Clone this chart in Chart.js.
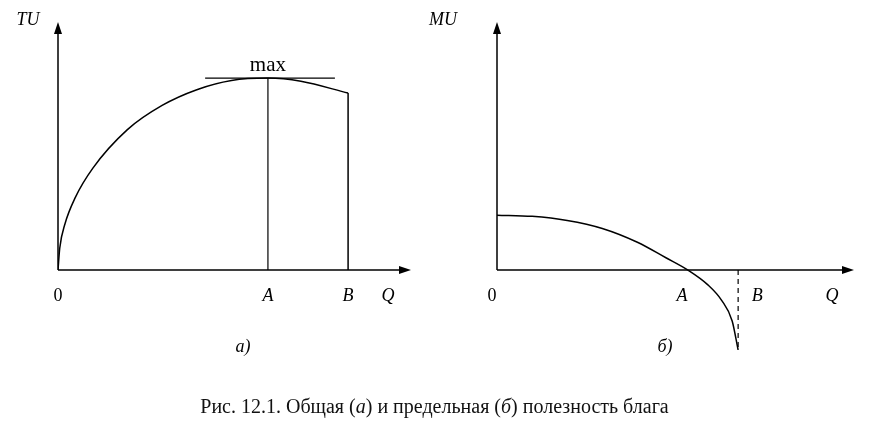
<!DOCTYPE html>
<html><head><meta charset="utf-8">
<script src="https://cdn.jsdelivr.net/npm/chart.js@4/dist/chart.umd.min.js"></script>
<style>
body{margin:0;background:#fff;width:869px;height:428px;overflow:hidden;position:relative;font-family:"Liberation Serif",serif}
canvas{position:absolute;left:0;top:0}
#cap{position:absolute;top:395px;left:0;width:869px;text-align:center;font-size:20px;color:#111}
</style></head><body>
<canvas id="left" width="869" height="428"></canvas>
<canvas id="right" width="869" height="428"></canvas>
<div id="cap">Рис. 12.1. Общая (<i>а</i>) и предельная (<i>б</i>) полезность блага</div>
<script>
// left panel: total utility
const tuQ = [0, 0.05, 0.2, 0.5, 1, 2, 3, 4, 5, 6.05, 7, 8.36];
const tuVal = [0, 0.9, 1.9, 3.0, 4.2, 5.8, 6.8, 7.45, 7.83, 7.93, 7.8, 7.31];
const leftA = 6.05, leftB = 8.36, tuMax = 7.93, maxLine = [4.24, 7.98];
// right panel: marginal utility
const muQ = [0, 1, 2, 3, 4, 4.8, 5.44, 6, 6.4, 6.7, 6.87];
const muVal = [2.27, 2.22, 2.05, 1.72, 1.15, 0.52, 0, -0.6, -1.25, -2.1, -3.3];
const rightA = 5.44, rightB = 6.87;

const pts = (xs, ys) => xs.map((x, i) => ({x: x, y: ys[i]}));

function axesPlugin(labels) {
    return {
        id: 'axes',
        afterDatasetsDraw(chart) {
            const c = chart.ctx, sx = chart.scales.x, sy = chart.scales.y;
            const x0 = sx.getPixelForValue(0), y0 = sy.getPixelForValue(0);
            const xEnd = sx.getPixelForValue(10), yTop = sy.getPixelForValue(10);
            c.save();
            c.strokeStyle = '#000'; c.fillStyle = '#000'; c.lineWidth = 1.5;
            c.beginPath(); c.moveTo(x0, y0); c.lineTo(x0, yTop + 4); c.moveTo(x0, y0); c.lineTo(xEnd - 4, y0); c.stroke();
            c.beginPath(); c.moveTo(x0, yTop - 6); c.lineTo(x0 - 4, yTop + 6); c.lineTo(x0 + 4, yTop + 6); c.fill();
            c.beginPath(); c.moveTo(xEnd + 6, y0); c.lineTo(xEnd - 6, y0 - 4); c.lineTo(xEnd - 6, y0 + 4); c.fill();
            c.textAlign = 'center'; c.textBaseline = 'middle';
            labels.forEach(l => {
                c.font = (l.italic ? 'italic ' : '') + (l.size || 18) + 'px "Liberation Serif"';
                const px = l.q !== undefined ? sx.getPixelForValue(l.q) + (l.dx || 0) : l.px;
                c.fillText(l.t, px, l.py);
            });
            c.restore();
        }
    };
}

const base = (padding, ymin) => ({
    responsive: false, animation: false,
    layout: {padding: padding},
    plugins: {legend: {display: false}, tooltip: {enabled: false}},
    elements: {point: {radius: 0}},
    scales: {
        x: {type: 'linear', min: 0, max: 10, display: false},
        y: {type: 'linear', min: ymin, max: 10, display: false}
    }
});

new Chart(document.getElementById('left'), {
    type: 'line',
    data: {datasets: [
        {data: pts(tuQ, tuVal), borderColor: '#000', borderWidth: 1.5, cubicInterpolationMode: 'monotone'},
        {data: [{x: leftA, y: 0}, {x: leftA, y: tuMax}], borderColor: '#000', borderWidth: 1.2},
        {data: [{x: leftB, y: 0}, {x: leftB, y: tuVal[tuVal.length - 1]}], borderColor: '#000', borderWidth: 1.5},
        {data: [{x: maxLine[0], y: tuMax}, {x: maxLine[1], y: tuMax}], borderColor: '#000', borderWidth: 1.2}
    ]},
    options: base({left: 58, right: 464, top: 28, bottom: 158}, 0),
    plugins: [axesPlugin([
        {t: 'TU', px: 28, py: 20, italic: true},
        {t: '0', q: 0, py: 296},
        {t: 'A', q: leftA, py: 296, italic: true},
        {t: 'B', q: leftB, py: 296, italic: true},
        {t: 'Q', px: 388, py: 296, italic: true},
        {t: 'max', q: leftA, py: 65, size: 21},
        {t: 'а)', px: 243, py: 347, italic: true}
    ])]
});

new Chart(document.getElementById('right'), {
    type: 'line',
    data: {datasets: [
        {data: pts(muQ, muVal), borderColor: '#000', borderWidth: 1.5, cubicInterpolationMode: 'monotone'},
        {data: [{x: rightB, y: 0}, {x: rightB, y: muVal[muVal.length - 1]}], borderColor: '#000', borderWidth: 1.2, borderDash: [5, 4]}
    ]},
    options: base({left: 497, right: 21, top: 28, bottom: 78}, -3.3),
    plugins: [axesPlugin([
        {t: 'MU', px: 443, py: 20, italic: true},
        {t: '0', px: 492, py: 296},
        {t: 'A', q: rightA, dx: -6, py: 296, italic: true},
        {t: 'B', q: rightB, dx: 19, py: 296, italic: true},
        {t: 'Q', px: 832, py: 296, italic: true},
        {t: 'б)', px: 665, py: 347, italic: true}
    ])]
});
</script>
</body></html>
